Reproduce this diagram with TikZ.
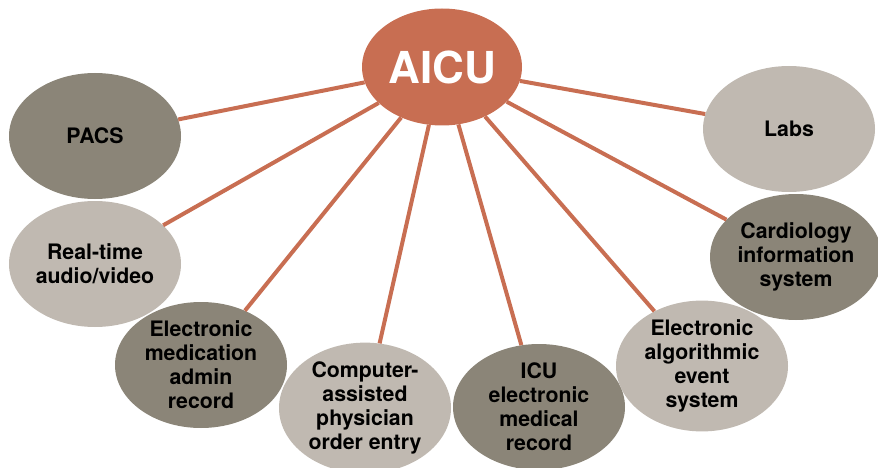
\documentclass[tikz,border=0pt]{standalone}
\usepackage{fontspec}
\setmainfont{TeX Gyre Heros}
\usetikzlibrary{shapes.geometric}

\definecolor{hubred}{HTML}{C86E52}
\definecolor{darkstone}{HTML}{8B8578}
\definecolor{lightstone}{HTML}{C0B9B1}

\begin{document}
\begin{tikzpicture}[
x=1pt, y=-1pt,
hub/.style={ellipse, fill=hubred, inner sep=0pt, minimum width=160pt, minimum height=117pt, text=white, font=\fontsize{44}{50}\selectfont\bfseries},
sat/.style={ellipse, inner sep=0pt, minimum width=172pt, minimum height=126pt, align=center, font=\fontsize{21.3}{24}\selectfont\bfseries},
darksat/.style={sat, fill=darkstone},
lightsat/.style={sat, fill=lightstone},
link/.style={draw=hubred, line width=4pt}
]
\useasboundingbox (0,0) rectangle (878,468);

\node[hub] (aicu) at (442,67) {AICU};

\node[darksat] (pacs) at (95,136) {PACS};
\node[lightsat] (rtav) at (95,264) {Real-time\\ audio/video};
\node[darksat] (emar) at (201,365) {Electronic\\ medication\\ admin\\ record};
\node[lightsat] (cpoe) at (365,408) {Computer-\\ assisted\\ physician\\ order entry};
\node[darksat] (emr) at (539,407) {ICU\\ electronic\\ medical\\ record};
\node[lightsat] (eaes) at (702,366) {Electronic\\ algorithmic\\ event\\ system};
\node[darksat] (cis) at (796,257) {Cardiology\\ information\\ system};
\node[lightsat] (labs) at (789,129) {Labs};

\draw[link] (aicu) -- (pacs);
\draw[link] (aicu) -- (rtav);
\draw[link] (aicu) -- (emar);
\draw[link] (aicu) -- (cpoe);
\draw[link] (aicu) -- (emr);
\draw[link] (aicu) -- (eaes);
\draw[link] (aicu) -- (cis);
\draw[link] (aicu) -- (labs);

\end{tikzpicture}
\end{document}
